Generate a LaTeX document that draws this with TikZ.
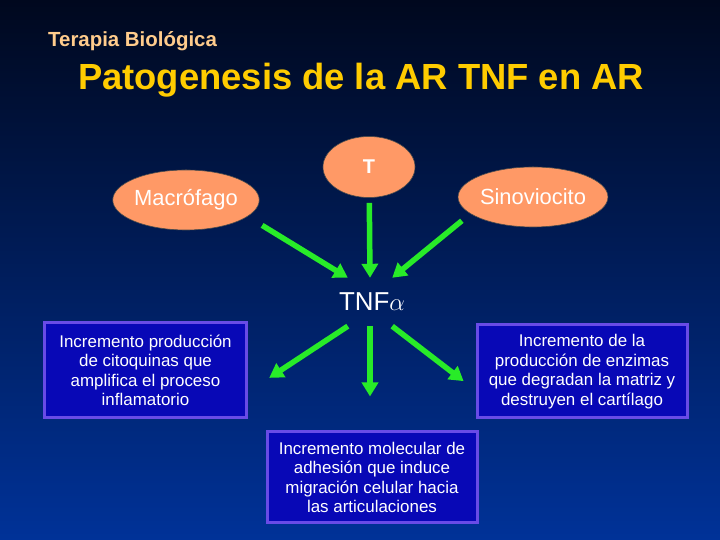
\documentclass[tikz,border=0pt]{standalone}
\usepackage{fontspec}
\setmainfont{Liberation Sans}
\usepackage{xcolor}
\usepackage{tikz}
\usetikzlibrary{arrows.meta, positioning, shapes.geometric}
\usepackage{amsmath, amssymb}

\definecolor{bgtop}{RGB}{0,8,30}
\definecolor{bgbottom}{RGB}{0,50,152}
\definecolor{titleyellow}{RGB}{255,204,0}
\definecolor{subtitleorange}{RGB}{255,204,140}
\definecolor{cellsalmon}{RGB}{255,153,102}
\definecolor{arrowgreen}{RGB}{40,235,40}
\definecolor{boxblue}{RGB}{8,8,182}
\definecolor{boxedge}{RGB}{105,75,230}

\begin{document}
\begin{tikzpicture}[
    x=1bp, y=1bp,
    cell/.style={ellipse, draw=black!70, line width=0.6bp, fill=cellsalmon, text=white, inner sep=0pt, font=\fontsize{22}{24}\selectfont},
    effect/.style={rectangle, draw=boxedge, line width=3bp, fill=boxblue, text=white, align=center, inner sep=0pt, font=\fontsize{17}{19.5}\selectfont},
    arrow/.style={-{Triangle[width=16bp, length=14bp]}, line width=5.5bp, draw=arrowgreen}
]

% Background
\shade[top color=bgtop, bottom color=bgbottom] (0,0) rectangle (720,540);
\useasboundingbox (0,0) rectangle (720,540);

% Nodes
\node[anchor=west, inner sep=0pt, text=subtitleorange, font=\bfseries\fontsize{20.5}{22}\selectfont] (subtitle) at (48,498.5) {Terapia Biológica};
\node[inner sep=0pt, text=titleyellow, font=\bfseries\fontsize{36.5}{40}\selectfont] (title) at (361,460) {Patogenesis de la AR TNF en AR};

\node[cell, minimum width=142bp, minimum height=60bp] (mac) at (186,340) {Macrófago};
\node[cell, minimum width=92bp, minimum height=61bp, font=\bfseries\fontsize{20}{22}\selectfont] (tcell) at (369,373) {T};
\node[cell, minimum width=141bp, minimum height=60bp] (sino) at (533,343) {Sinoviocito};

\node[rectangle, minimum width=44bp, minimum height=48bp, inner sep=0pt] (hub) at (370,238) {};
\node[text=white, inner sep=0pt, font=\fontsize{26}{28}\selectfont] (tnf) at ([xshift=2bp]hub) {TNF$\alpha$};

\node[effect, minimum width=201bp, minimum height=95bp] (boxL) at (145.5,169.5) {Incremento producción\\de citoquinas que\\amplifica el proceso\\inflamatorio};
\node[effect, minimum width=210bp, minimum height=93bp] (boxR) at (582,168.5) {Incremento de la\\producción de enzimas\\que degradan la matriz y\\destruyen el cartílago};
\node[effect, minimum width=210bp, minimum height=91bp] (boxB) at (372,62.5) {Incremento molecular de\\adhesión que induce\\migración celular hacia\\las articulaciones};

% Edges
\draw[arrow, shorten <=17bp] (mac.-15) -- (hub.north west);
\draw[arrow, shorten <=5bp] (tcell) -- (hub.north);
\draw[arrow, shorten <=11bp] (sino.195) -- (hub.north east);
\draw[arrow, shorten >=26bp] (hub.south west) -- (boxL.-12);
\draw[arrow, shorten >=34bp] (hub.south) -- (hub.south |- boxB.north);
\draw[arrow, shorten >=15bp] (hub.south east) -- (boxR.190);

\end{tikzpicture}
\end{document}
